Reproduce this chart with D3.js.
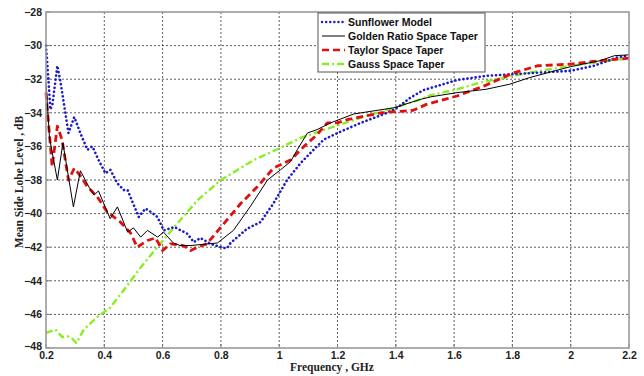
<!DOCTYPE html>
<html>
<head>
<meta charset="utf-8">
<script src="https://cdn.jsdelivr.net/npm/d3@7"></script>
<style>
  body { margin: 0; background: #fff; }
  .tick-label { font-family: Arial, "Liberation Sans", sans-serif; font-weight: bold; font-size: 10.5px; fill: #222; }
  .axis-title { font-family: "Liberation Serif", "Times New Roman", serif; font-weight: bold; font-size: 11.5px; fill: #222; }
  .legend-text { font-family: Arial, "Liberation Sans", sans-serif; font-weight: bold; font-size: 10.5px; fill: #111; }
</style>
</head>
<body>
<svg id="chart" width="644" height="376"></svg>
<script>
// frequency ticks (GHz) and level ticks (dB)
const xTicks = [0.2, 0.4, 0.6, 0.8, 1, 1.2, 1.4, 1.6, 1.8, 2, 2.2]
const yTicks = [-28, -30, -32, -34, -36, -38, -40, -42, -44, -46, -48]

const seriesNames = ['Sunflower Model', 'Golden Ratio Space Taper', 'Taylor Space Taper', 'Gauss Space Taper']

const sunflowerF = [0.2, 0.209, 0.215, 0.222, 0.239, 0.25, 0.277, 0.297, 0.32, 0.342, 0.359, 0.38, 0.404, 0.421, 0.445, 0.467, 0.48, 0.518, 0.541, 0.56, 0.582, 0.604, 0.64, 0.685, 0.707, 0.73, 0.764, 0.81, 0.822, 0.833, 0.89, 0.936, 0.98, 1.027, 1.073, 1.118, 1.153, 1.2, 1.28, 1.37, 1.405, 1.45, 1.495, 1.61, 1.71, 1.8, 1.9, 2.0, 2.08, 2.16, 2.2]
const sunflowerDb = [-30.0, -32.2, -33.8, -33.5, -31.2, -32.2, -35.2, -34.25, -35.3, -36.2, -36.0, -36.8, -37.6, -37.4, -38.2, -38.6, -38.6, -40.2, -39.7, -39.9, -40.2, -41.0, -40.8, -41.2, -41.7, -41.45, -41.8, -42.05, -42.05, -41.75, -40.9, -40.5, -39.4, -38.0, -37.0, -36.2, -35.6, -35.2, -34.6, -34.0, -33.7, -33.1, -32.65, -32.05, -31.8, -31.7, -31.6, -31.5, -31.2, -30.7, -30.6]

const goldenF = [0.2, 0.212, 0.239, 0.258, 0.294, 0.318, 0.35, 0.365, 0.38, 0.42, 0.445, 0.48, 0.5, 0.525, 0.548, 0.583, 0.603, 0.637, 0.66, 0.696, 0.788, 0.843, 0.9, 0.96, 1.004, 1.039, 1.062, 1.097, 1.13, 1.176, 1.256, 1.3, 1.394, 1.485, 1.52, 1.61, 1.71, 1.79, 1.86, 2.0, 2.1, 2.15, 2.2]
const goldenDb = [-32.2, -35.5, -38.0, -35.8, -39.6, -37.45, -38.5, -38.9, -38.65, -40.3, -39.6, -41.1, -40.85, -41.4, -41.0, -41.4, -41.1, -41.75, -41.9, -41.9, -41.75, -41.0, -39.6, -38.0, -37.4, -36.9, -36.2, -35.2, -35.0, -34.6, -34.07, -33.95, -33.7, -33.2, -33.05, -32.8, -32.6, -32.3, -31.9, -31.25, -30.9, -30.6, -30.55]

const taylorF = [0.2, 0.221, 0.239, 0.255, 0.277, 0.297, 0.32, 0.342, 0.376, 0.41, 0.455, 0.49, 0.513, 0.548, 0.576, 0.6, 0.627, 0.672, 0.696, 0.72, 0.752, 0.81, 0.868, 0.925, 0.98, 1.04, 1.085, 1.13, 1.165, 1.2, 1.234, 1.35, 1.46, 1.505, 1.61, 1.71, 1.8, 1.886, 2.0, 2.1, 2.2]
const taylorDb = [-32.8, -37.2, -34.8, -35.6, -38.0, -37.3, -37.8, -38.4, -39.0, -39.9, -40.5, -41.15, -42.0, -41.6, -41.45, -42.2, -41.8, -41.9, -42.2, -42.0, -41.8, -40.6, -39.4, -38.4, -37.3, -36.8, -36.0, -35.3, -34.6, -34.6, -34.4, -34.0, -33.85, -33.5, -33.0, -32.35, -31.65, -31.2, -31.1, -30.9, -30.75]

const gaussF = [0.2, 0.232, 0.256, 0.273, 0.29, 0.304, 0.33, 0.376, 0.42, 0.467, 0.525, 0.582, 0.64, 0.72, 0.8, 0.914, 0.99, 1.073, 1.165, 1.279, 1.394, 1.485, 1.52, 1.61, 1.69, 1.86, 2.0, 2.2]
const gaussDb = [-47.1, -46.9, -47.35, -47.3, -47.45, -47.7, -46.9, -46.15, -45.6, -44.55, -43.2, -42.0, -40.8, -39.2, -38.0, -36.8, -36.2, -35.5, -34.95, -34.3, -33.7, -33.2, -32.95, -32.6, -32.2, -31.6, -31.2, -30.75]

const width = 644
const height = 376
const margin = { top: 12, right: 15, bottom: 28, left: 46 }

const svg = d3.select('#chart')

const x = d3.scaleLinear().domain([0.2, 2.2]).range([margin.left, width - margin.right])
const y = d3.scaleLinear().domain([-48, -28]).range([height - margin.bottom, margin.top])

// grid
const grid = svg.append('g').attr('class', 'grid')
grid.selectAll('.vgrid')
  .data(xTicks.slice(1, -1))
  .enter().append('line')
    .attr('x1', d => x(d)).attr('x2', d => x(d))
    .attr('y1', y(-28)).attr('y2', y(-48))
    .style('stroke', '#333').style('stroke-width', 0.8).style('stroke-dasharray', '2,2')
grid.selectAll('.hgrid')
  .data(yTicks.slice(1, -1))
  .enter().append('line')
    .attr('x1', x(0.2)).attr('x2', x(2.2))
    .attr('y1', d => y(d)).attr('y2', d => y(d))
    .style('stroke', '#333').style('stroke-width', 0.8).style('stroke-dasharray', '2,2')

// axes (labels only, matlab-like)
const xAxis = d3.axisBottom(x).tickValues(xTicks).tickSize(0).tickPadding(4).tickFormat(d3.format('~g'))
const yAxis = d3.axisLeft(y).tickValues(yTicks).tickSize(0).tickPadding(4)

const gx = svg.append('g').attr('transform', `translate(0,${y(-48)})`).call(xAxis)
gx.select('.domain').remove()
gx.selectAll('text').attr('class', 'tick-label').attr('fill', null)

const gy = svg.append('g').attr('transform', `translate(${x(0.2)},0)`).call(yAxis)
gy.select('.domain').remove()
gy.selectAll('text').attr('class', 'tick-label').attr('fill', null)
// bottom label sits a touch higher so it clears the first frequency label
gy.selectAll('text').filter(d => d === -48).attr('dy', '0.1em')

// small inward ticks
svg.append('g').selectAll('line')
  .data(xTicks)
  .enter().append('line')
    .attr('x1', d => x(d)).attr('x2', d => x(d))
    .attr('y1', y(-48)).attr('y2', y(-48) - 4)
    .style('stroke', '#777').style('stroke-width', 1)
svg.append('g').selectAll('line')
  .data(yTicks)
  .enter().append('line')
    .attr('x1', x(0.2)).attr('x2', x(0.2) + 4)
    .attr('y1', d => y(d)).attr('y2', d => y(d))
    .style('stroke', '#777').style('stroke-width', 1)

// series
const line = d3.line().x(d => x(d[0])).y(d => y(d[1]))
const zipSeries = (f, v) => f.map((d, i) => [d, v[i]])

const styles = [
  { color: '#1a1acc', width: 2.6, dash: '0.1,4', cap: 'round' },
  { color: '#000000', width: 1, dash: null, cap: 'butt' },
  { color: '#e01010', width: 2.8, dash: '7,4', cap: 'butt' },
  { color: '#88ee22', width: 2.4, dash: '7,3,2,3', cap: 'butt' }
]

const seriesData = [
  zipSeries(sunflowerF, sunflowerDb),
  zipSeries(goldenF, goldenDb),
  zipSeries(taylorF, taylorDb),
  zipSeries(gaussF, gaussDb)
]

const drawOrder = [3, 0, 2, 1]
drawOrder.forEach(i => {
  svg.append('path')
    .datum(seriesData[i])
    .attr('d', line)
    .style('fill', 'none')
    .style('stroke', styles[i].color)
    .style('stroke-width', styles[i].width)
    .style('stroke-dasharray', styles[i].dash)
    .style('stroke-linecap', styles[i].cap)
    .style('stroke-linejoin', 'round')
})

// frame
svg.append('rect')
  .attr('x', x(0.2)).attr('y', y(-28))
  .attr('width', x(2.2) - x(0.2)).attr('height', y(-48) - y(-28))
  .style('fill', 'none').style('stroke', '#999').style('stroke-width', 1.6)

// legend
const legend = svg.append('g').attr('transform', 'translate(318,13)')
legend.append('rect')
  .attr('width', 167).attr('height', 59)
  .style('fill', '#fff').style('stroke', '#555').style('stroke-width', 1)

const legendRows = legend.selectAll('.legend-row')
  .data(seriesNames)
  .enter().append('g')
    .attr('class', 'legend-row')
    .attr('transform', (d, i) => `translate(0,${9 + i * 14})`)

legendRows.append('line')
  .attr('x1', 4).attr('x2', 27)
  .attr('y1', 0).attr('y2', 0)
  .style('stroke', (d, i) => styles[i].color)
  .style('stroke-width', (d, i) => Math.min(styles[i].width, 2.4))
  .style('stroke-dasharray', (d, i) => styles[i].dash)
  .style('stroke-linecap', (d, i) => styles[i].cap)

legendRows.append('text')
  .attr('class', 'legend-text')
  .attr('x', 30).attr('y', 0).attr('dy', '0.36em')
  .text(d => d)

// axis titles
svg.append('text')
  .attr('class', 'axis-title')
  .attr('text-anchor', 'middle')
  .attr('transform', 'translate(23,182) rotate(-90)')
  .text('Mean Side Lobe Level , dB')

svg.append('text')
  .attr('class', 'axis-title')
  .attr('text-anchor', 'middle')
  .attr('x', 332).attr('y', 371)
  .text('Frequency , GHz')
</script>
</body>
</html>
